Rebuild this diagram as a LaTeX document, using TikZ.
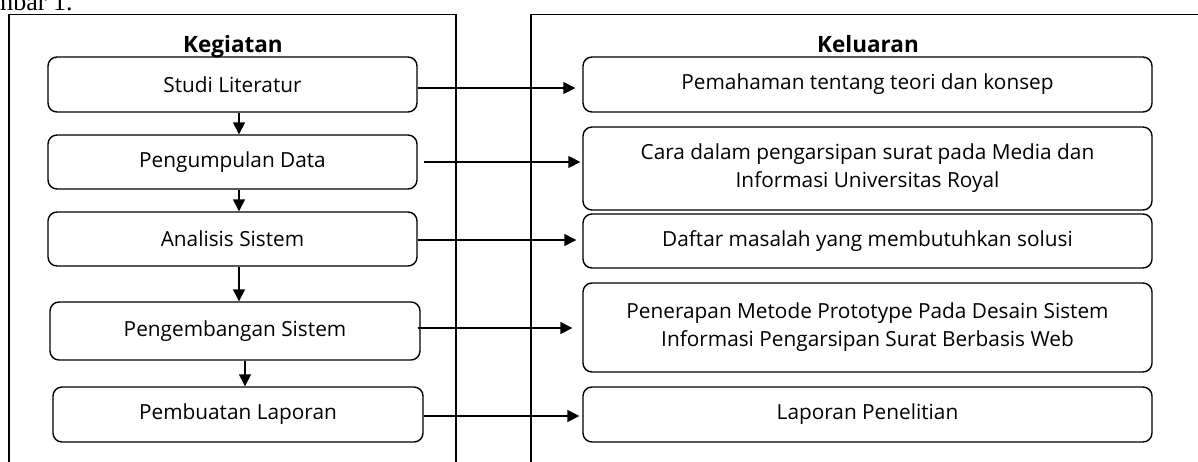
\documentclass[tikz,border=0pt]{standalone}
\usepackage{fontspec}
\setmainfont{Open Sans}
\newfontfamily\capserif{Liberation Serif}
\usetikzlibrary{arrows.meta}
\tikzset{
  box/.style={draw, line width=1.4pt, rounded corners=9pt, align=center, inner sep=0pt, font=\fontsize{20.8}{28}\selectfont},
  lbox/.style={box, minimum height=54pt},
  rbox/.style={box, minimum width=569pt},
  head/.style={font=\fontsize{22.5}{26}\selectfont\bfseries, inner sep=0pt, anchor=base},
  frame/.style={line width=1.4pt},
  arr/.style={line width=1.4pt, -{Triangle[length=12pt,width=12pt]}},
}
\begin{document}
\begin{tikzpicture}[x=1pt,y=-1pt]
\useasboundingbox (0,0) rectangle (1198,461);
\clip (0,0) rectangle (1198,461);
\node[anchor=base west, inner sep=0pt, font=\capserif\fontsize{26}{30}\selectfont] (cap) at (-7,10) {mbar 1.};
% frames
\draw[frame] (9,470) -- (9,14.5) -- (456,14.5) -- (456,470);
\draw[frame] (531,470) -- (531,14.5) -- (1210,14.5);
\node[head] (hk) at (233,52) {Kegiatan};
\node[head] (hl) at (868,52) {Keluaran};
% left boxes
\node[lbox, minimum width=369pt, minimum height=55pt] (L1) at (232.5,84.5) {Studi Literatur};
\node[lbox, minimum width=369pt] (L2) at (232.5,162) {Pengumpulan Data};
\node[lbox, minimum width=369pt] (L3) at (232.5,239) {Analisis Sistem};
\node[lbox, minimum width=370pt, minimum height=58pt] (L4) at (235,331) {Pengembangan Sistem};
\node[lbox, minimum width=370pt, minimum height=55pt] (L5) at (238,414.5) {Pembuatan Laporan};
% right boxes
\node[rbox, minimum height=55pt] (R1) at (867.5,84.5) {Pemahaman tentang teori dan konsep};
\node[rbox, minimum height=83pt] (R2) at (867.5,168.5) {Cara dalam pengarsipan surat pada Media dan\\Informasi Universitas Royal};
\node[rbox, minimum height=54pt] (R3) at (867.5,241) {Daftar masalah yang membutuhkan solusi};
\node[rbox, minimum height=89pt] (R4) at (867.5,327.5) {Penerapan Metode Prototype Pada Desain Sistem\\Informasi Pengarsipan Surat Berbasis Web};
\node[rbox, minimum height=55pt] (R5) at (867.5,414.5) {Laporan Penelitian};
% vertical arrows
\coordinate (va) at (239,0);
\coordinate (vb) at (245,0);
\draw[arr] (L1.south -| va) -- (L2.north -| va);
\draw[arr] (L2.south -| va) -- (L3.north -| va);
\draw[arr] (L3.south -| va) -- (L4.north -| va);
\draw[arr] (L4.south -| vb) -- (L5.north -| vb);
% horizontal arrows
\coordinate (h1) at (0,88);
\coordinate (h2) at (0,162);
\coordinate (h3) at (0,240);
\coordinate (h4) at (0,328);
\coordinate (h5) at (0,416);
\draw[arr, shorten >=7pt] (L1.east |- h1) -- (R1.west |- h1);
\draw[arr, shorten <=6pt, shorten >=2pt] (L2.east |- h2) -- (R2.west |- h2);
\draw[arr, shorten >=6pt] (L3.east |- h3) -- (R3.west |- h3);
\draw[arr, shorten <=-3pt, shorten >=10pt] (L4.east |- h4) -- (R4.west |- h4);
\draw[arr, shorten >=3pt] (L5.east |- h5) -- (R5.west |- h5);
\end{tikzpicture}
\end{document}
